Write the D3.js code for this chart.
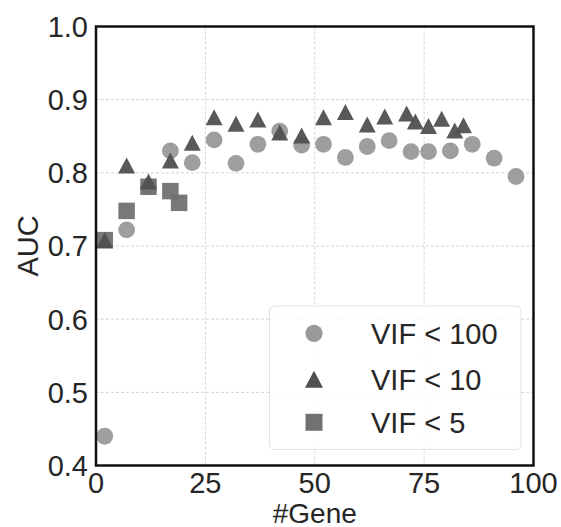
<!DOCTYPE html>
<html><head><meta charset="utf-8">
<script src="https://cdn.jsdelivr.net/npm/d3@7"></script>
<style>
body{margin:0;background:#fff;}
text{font-family:"Liberation Sans",Arial,sans-serif;fill:#262626;}
</style></head>
<body><svg id="c" width="561" height="527"></svg>
<script>
const vif100X = [2, 7, 12, 17, 22, 27, 32, 37, 42, 47, 52, 57, 62, 67, 72, 76, 81, 86, 91, 96];
const vif100Y = [0.440, 0.722, 0.781, 0.830, 0.814, 0.845, 0.813, 0.839, 0.857, 0.838, 0.839, 0.821, 0.836, 0.844, 0.829, 0.829, 0.830, 0.839, 0.820, 0.795];
const vif10X = [2, 7, 12, 17, 22, 27, 32, 37, 42, 47, 52, 57, 62, 66, 71, 73, 76, 79, 82, 84];
const vif10Y = [0.708, 0.810, 0.788, 0.817, 0.841, 0.876, 0.867, 0.873, 0.855, 0.851, 0.876, 0.883, 0.866, 0.877, 0.881, 0.870, 0.864, 0.874, 0.858, 0.865];
const vif5X = [2, 7, 12, 17, 19];
const vif5Y = [0.708, 0.748, 0.781, 0.775, 0.759];
const xTicks = [0, 25, 50, 75, 100];
const yTicks = [0.4, 0.5, 0.6, 0.7, 0.8, 0.9, 1.0];
const legendLabels = ["VIF < 100", "VIF < 10", "VIF < 5"];

const svg = d3.select("#c");
const L = 96, R = 533.5, T = 26.5, B = 465.5;
const x = d3.scaleLinear().domain([0, 100]).range([L, R]);
const y = d3.scaleLinear().domain([0.4, 1.0]).range([B, T]);

// grid
const g = svg.append("g");
g.selectAll(".gx").data(xTicks.slice(1, -1)).join("line")
  .attr("x1", d => x(d)).attr("x2", d => x(d)).attr("y1", T).attr("y2", B)
  .attr("stroke", "#d4d4d4").attr("stroke-width", 1).attr("stroke-dasharray", "3,2");
g.selectAll(".gy").data(yTicks.slice(1, -1)).join("line")
  .attr("y1", d => y(d)).attr("y2", d => y(d)).attr("x1", L).attr("x2", R)
  .attr("stroke", "#d4d4d4").attr("stroke-width", 1).attr("stroke-dasharray", "3,2");

// marker types
const tri = { draw(ctx, size) { const h = Math.sqrt(size) / 2; ctx.moveTo(0, -h); ctx.lineTo(h * 1.06, h); ctx.lineTo(-h * 1.06, h); ctx.closePath(); } };
const sq = { draw(ctx, size) { const h = Math.sqrt(size) / 2; ctx.rect(-h, -h, 2 * h, 2 * h); } };

const circData = vif100X.map((d, i) => [d, vif100Y[i]]);
const triData = vif10X.map((d, i) => [d, vif10Y[i]]);
const sqData = vif5X.map((d, i) => [d, vif5Y[i]]);

const cCol = "#999999", tCol = "#505050", sCol = "#717171";

svg.append("g").selectAll("circle").data(circData).join("circle")
  .attr("cx", d => x(d[0])).attr("cy", d => y(d[1])).attr("r", 8.4)
  .attr("fill", cCol).attr("fill-opacity", 0.95);
svg.append("g").selectAll("path").data(sqData).join("path")
  .attr("transform", d => `translate(${x(d[0])},${y(d[1])})`)
  .attr("d", d3.symbol().type(sq).size(16.5 * 16.5)())
  .attr("fill", sCol).attr("fill-opacity", 0.95);
svg.append("g").selectAll("path").data(triData).join("path")
  .attr("transform", d => `translate(${x(d[0])},${y(d[1])})`)
  .attr("d", d3.symbol().type(tri).size(16 * 16)())
  .attr("fill", tCol).attr("fill-opacity", 0.95);

// frame
svg.append("rect").attr("x", L).attr("y", T).attr("width", R - L).attr("height", B - T)
  .attr("fill", "none").attr("stroke", "#111").attr("stroke-width", 2.5);

// ticks labels
svg.append("g").selectAll("text").data(xTicks).join("text")
  .attr("x", d => x(d)).attr("y", 493).attr("text-anchor", "middle")
  .attr("font-size", 29).text(d => d);
svg.append("g").selectAll("text").data(yTicks).join("text")
  .attr("x", 88).attr("y", d => y(d)).attr("dy", "0.36em").attr("text-anchor", "end")
  .attr("font-size", 29).text(d => d.toFixed(1));

// axis labels
svg.append("text").attr("x", (L + R) / 2).attr("y", 523).attr("text-anchor", "middle")
  .attr("font-size", 28).text("#Gene");
svg.append("text").attr("transform", `translate(38,${(T + B) / 2}) rotate(-90)`)
  .attr("text-anchor", "middle").attr("font-size", 29).text("AUC");

// legend
const lg = svg.append("g");
lg.append("rect").attr("x", 269.5).attr("y", 306).attr("width", 251.5).attr("height", 143.5)
  .attr("rx", 5).attr("fill", "#fff").attr("fill-opacity", 0.8).attr("stroke", "#e2e2e2").attr("stroke-width", 1);
const rows = [333.3, 379.3, 422.3];
lg.append("circle").attr("cx", 314).attr("cy", rows[0]).attr("r", 8.6).attr("fill", cCol);
lg.append("path").attr("transform", `translate(314,${rows[1]})`).attr("d", d3.symbol().type(tri).size(17 * 17)()).attr("fill", tCol);
lg.append("path").attr("transform", `translate(314,${rows[2]})`).attr("d", d3.symbol().type(sq).size(17 * 17)()).attr("fill", sCol);
lg.selectAll("text").data(legendLabels).join("text")
  .attr("x", 371).attr("y", (d, i) => rows[i]).attr("dy", "0.36em")
  .attr("font-size", 29).text(d => d);
</script></body></html>
